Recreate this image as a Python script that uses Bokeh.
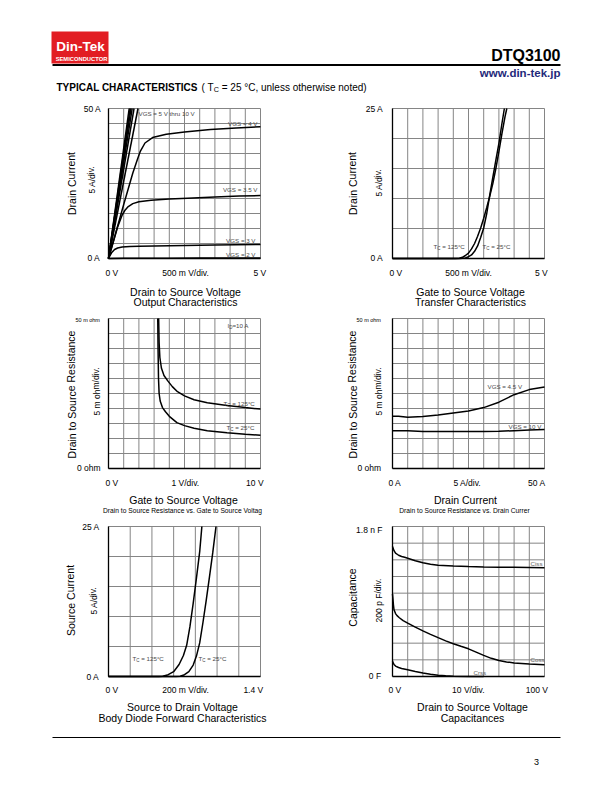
from bokeh.plotting import figure
from bokeh.models import Range1d, Label
from bokeh.embed import file_html
from bokeh.resources import INLINE

FONT = "Liberation Sans"
GRID_COLOR = "#858585"
NOTE_COLOR = "#4a4a4a"
CURVE_W = 1.5

# ---------------- data ----------------
# Output characteristics (VDS [V], ID [A])
out_high_vgs = ["5 V", "6 V", "7 V", "8 V", "9 V", "10 V"]
out_high_vds_at_50a = [0.97, 0.84, 0.78, 0.74, 0.71, 0.68]
out_vds_4 = [0, 0.5, 0.8, 0.95, 1.05, 1.2, 1.45, 1.9, 2.5, 3.35, 4.2, 5.0]
out_id_4 = [0, 18, 28.5, 33, 35.8, 38.5, 40.3, 41.4, 42.2, 43.0, 43.5, 43.9]
out_vds_35 = [0, 0.3, 0.45, 0.55, 0.65, 0.8, 1.0, 1.4, 2.0, 2.6, 3.5, 4.3, 5.0]
out_id_35 = [0, 10.5, 14.5, 16.2, 17.3, 18.3, 18.9, 19.4, 19.8, 20.1, 20.5, 20.8, 21.0]
out_vds_3 = [0, 0.1, 0.2, 0.3, 0.45, 0.7, 1.0, 1.5, 2.5, 3.5, 5.0]
out_id_3 = [0, 1.9, 3.0, 3.5, 3.8, 4.0, 4.1, 4.2, 4.35, 4.5, 4.7]
out_vds_2 = [0, 0.5, 1, 2, 3, 4, 5]
out_id_2 = [0, 0.08, 0.1, 0.12, 0.13, 0.14, 0.15]

# Transfer characteristics (VGS [V], ID [A])
tr_vgs_25 = [0, 2.2, 2.4, 2.5, 2.6, 2.7, 2.8, 2.9, 3.0, 3.1, 3.2, 3.3, 3.4, 3.5, 3.6, 3.68]
tr_id_25 = [0, 0, 0.1, 0.3, 0.6, 1.2, 2.1, 3.5, 5.1, 7.5, 10.6, 13.5, 16.4, 19.2, 22.5, 25]
tr_vgs_125 = [0, 2.05, 2.2, 2.3, 2.4, 2.5, 2.6, 2.7, 2.8, 2.9, 3.0, 3.1, 3.2, 3.3, 3.4, 3.5, 3.6, 3.7, 3.76]
tr_id_125 = [0, 0, 0.05, 0.2, 0.5, 0.9, 1.6, 2.5, 3.7, 5.1, 6.7, 8.5, 10.4, 12.5, 15.0, 17.8, 20.8, 23.6, 25]

# RDS(on) vs VGS (VGS [V], R [mOhm])
rg_vgs_125 = [3.3, 3.33, 3.38, 3.48, 3.65, 3.9, 4.2, 4.54, 5.0, 5.63, 6.5, 7.8, 9.0, 10]
rg_r_125 = [50, 42, 37, 33.5, 31, 29.2, 27.3, 25.6, 24.2, 22.9, 21.9, 21.0, 20.3, 19.8]
rg_vgs_25 = [3.24, 3.26, 3.29, 3.33, 3.4, 3.55, 3.75, 4.0, 4.5, 5.0, 5.63, 6.5, 7.8, 9.0, 10]
rg_r_25 = [50, 40, 30, 25, 22.5, 20.3, 18.9, 17.4, 15.3, 14.3, 13.4, 12.6, 11.9, 11.4, 11.1]

# RDS(on) vs ID (ID [A], R [mOhm])
ri_id_45 = [0, 2, 5, 10, 15, 20, 25, 30, 35, 40, 45, 50]
ri_r_45 = [17.4, 17.4, 17.1, 17.3, 17.8, 18.5, 19.2, 20.3, 22.1, 24.6, 26.3, 27.2]
ri_id_10 = [0, 5, 10, 15, 20, 25, 30, 35, 40, 45, 50]
ri_r_10 = [12.6, 12.6, 12.3, 12.3, 12.3, 12.3, 12.3, 12.4, 12.6, 12.8, 13.0]

# Body diode (VSD [V], IS [A])
bd_vsd_125 = [0, 0.46, 0.5, 0.55, 0.6, 0.65, 0.69, 0.72, 0.75, 0.78, 0.81, 0.84, 0.86]
bd_is_125 = [0, 0, 0.05, 0.3, 0.8, 2.0, 3.5, 5.2, 8.3, 12.2, 16.4, 20.8, 25]
bd_vsd_25 = [0, 0.62, 0.66, 0.7, 0.74, 0.78, 0.81, 0.84, 0.87, 0.9, 0.93, 0.96, 0.99]
bd_is_25 = [0, 0, 0.05, 0.3, 0.8, 1.9, 3.4, 5.6, 9.0, 12.7, 16.6, 20.6, 25.0]

# Capacitances (VDS [V], C [pF])
cap_v_iss = [0, 1, 2, 4, 6, 8, 10, 15, 20, 25, 30, 40, 50, 60, 70, 80, 90, 100]
cap_iss = [1560, 1510, 1480, 1455, 1440, 1430, 1420, 1390, 1366, 1348, 1336, 1327, 1320, 1315, 1312, 1310, 1308, 1306]
cap_v_oss = [0, 0.3, 0.6, 1, 2, 3, 4.5, 7, 10, 15, 20, 25, 30, 35, 40, 45, 50, 55, 60, 65, 70, 75, 80, 90, 100]
cap_oss = [990, 930, 860, 800, 755, 730, 705, 670, 640, 592, 548, 506, 466, 428, 393, 362, 332, 293, 253, 218, 192, 175, 163, 150, 142]
cap_v_rss = [0, 0.5, 1, 2, 4, 6, 10, 15, 20, 25, 30, 35, 40, 50, 60]
cap_rss = [185, 160, 145, 125, 108, 97, 81, 60, 42, 27, 16, 8, 3, 1, 0]

# approximate glyph widths (em) for placing subscripts
W = {"T": 0.611, "I": 0.278, "(": 0.333, " ": 0.278, "C": 0.722, "D": 0.722}

# ---------------- page canvas (page pixels as units) ----------------
PW, PH = 610, 790
p = figure(width=PW, height=PH, x_range=Range1d(0, PW), y_range=Range1d(PH, 0),
           x_axis_type=None, y_axis_type=None, toolbar_location=None,
           output_backend="svg", min_border=0)
p.outline_line_color = None
p.background_fill_color = "white"
p.border_fill_color = "white"
p.xgrid.visible = False
p.ygrid.visible = False

extra_x, extra_y = {}, {}
charts = []


class Chart:
    """A chart region on the page with its own data scales."""
    def __init__(self, name, L, T, R, B, xr, yr, nx, ny):
        self.name, self.xr, self.yr, self.nx, self.ny = name, xr, yr, nx, ny
        sx = (xr[1] - xr[0]) / (R - L)
        sy = (yr[1] - yr[0]) / (B - T)
        extra_x[name] = Range1d(xr[0] - L * sx, xr[1] + (PW - R) * sx)
        extra_y[name] = Range1d(yr[0] - (PH - B) * sy, yr[1] + T * sy)
        self.curves = []
        charts.append(self)

    def curve(self, xs, ys):
        self.curves.append((xs, ys))

    def draw(self):
        n = self.name
        xr, yr = self.xr, self.yr
        xt = [xr[0] + i * (xr[1] - xr[0]) / self.nx for i in range(self.nx + 1)]
        yt = [yr[0] + i * (yr[1] - yr[0]) / self.ny for i in range(self.ny + 1)]
        p.segment(x0=xt, y0=[yr[0]] * len(xt), x1=xt, y1=[yr[1]] * len(xt),
                  line_color=GRID_COLOR, line_width=1, x_range_name=n, y_range_name=n)
        p.segment(x0=[xr[0]] * len(yt), y0=yt, x1=[xr[1]] * len(yt), y1=yt,
                  line_color=GRID_COLOR, line_width=1, x_range_name=n, y_range_name=n)
        p.segment(x0=[xr[0]], y0=[yr[0]], x1=[xr[0]], y1=[yr[1]],
                  line_color="black", line_width=1.3, x_range_name=n, y_range_name=n)
        p.segment(x0=[xr[0]], y0=[yr[0]], x1=[xr[1]], y1=[yr[0]],
                  line_color="black", line_width=1.5, x_range_name=n, y_range_name=n)
        for xs, ys in self.curves:
            p.line(xs, ys, line_color="black", line_width=CURVE_W,
                   x_range_name=n, y_range_name=n)


def text(px, py, s, size, align="left", angle=0.0, color="black", style="normal"):
    p.add_layout(Label(x=px, y=py, text=s, text_font=FONT, text_font_size=f"{size}px",
                       text_align=align, text_baseline="middle", angle=angle,
                       text_color=color, text_font_style=style))


def sub_text(px, py, main, sub, rest, size, color="black"):
    wm = sum(W.get(ch, 0.556) for ch in main) * size
    ss = size * 0.72
    ws = sum(W.get(ch, 0.556) for ch in sub) * ss
    lead = len(rest) - len(rest.lstrip(" "))
    text(px, py, main, size, color=color)
    text(px + wm, py + size * 0.25, sub, ss, color=color)
    text(px + wm + ws + lead * W[" "] * size, py, rest.lstrip(" "), size, color=color)


TICK = 8.5
TITLE = 10.5
NOTE = 6.2
ROT = 1.5708

# ---------------- header ----------------
p.quad(left=51, right=108, top=31, bottom=63, fill_color="#e21d23", line_color=None)
text(80, 45.5, "Din-Tek", 13.5, align="center", color="white", style="bold")
text(81, 58, "SEMICONDUCTOR", 5.8, align="center", color="white", style="bold")
p.segment(x0=[52], y0=[64.5], x1=[560], y1=[64.5], line_color="black", line_width=2)
text(560, 55, "DTQ3100", 16, align="right", style="bold")
text(560, 72, "www.din-tek.jp", 11.5, align="right", color="#1f2a7a", style="bold")
text(56, 86.5, "TYPICAL CHARACTERISTICS", 10, style="bold")
sub_text(201, 86.5, "( T", "C", " = 25 °C, unless otherwise noted)", 10)

# ---------------- chart 1: output characteristics ----------------
c1 = Chart("c1", 108, 108, 260, 258, (0, 5), (0, 50), 10, 10)
for v_end in out_high_vds_at_50a:
    c1.curve([0, v_end], [0, 50])
c1.curve(out_vds_4, out_id_4)
c1.curve(out_vds_35, out_id_35)
c1.curve(out_vds_3, out_id_3)
c1.curve(out_vds_2, out_id_2)
text(103, 108, "50  A", TICK, align="right")
text(102, 257, "0  A", TICK, align="right")
text(91, 178, "5  A/div.", TICK, align="center", angle=ROT)
text(71, 183, "Drain Current", TITLE, align="center", angle=ROT)
text(105, 272, "0  V", TICK)
text(185, 272, "500 m V/div.", TICK, align="center")
text(260.5, 272, "5  V", TICK, align="center")
text(185, 291, "Drain to Source Voltage", TITLE, align="center")
text(185, 301, "Output Characteristics", TITLE, align="center")
text(138, 112.5, "VGS = " + out_high_vgs[0] + " thru " + out_high_vgs[-1], NOTE, color=NOTE_COLOR)
text(257, 122.5, "VGS = 4 V", NOTE, align="right", color=NOTE_COLOR)
text(257, 189, "VGS = 3.5 V", NOTE, align="right", color=NOTE_COLOR)
text(255, 240, "VGS = 3 V", NOTE, align="right", color=NOTE_COLOR)
text(255, 253.5, "VGS = 2 V", NOTE, align="right", color=NOTE_COLOR)

# ---------------- chart 2: transfer characteristics ----------------
c2 = Chart("c2", 392, 108, 544, 258, (0, 5), (0, 25), 10, 5)
c2.curve(tr_vgs_125, tr_id_125)
c2.curve(tr_vgs_25, tr_id_25)
text(385, 108, "25  A", TICK, align="right")
text(385, 257, "0  A", TICK, align="right")
text(378, 181, "5  A/div.", TICK, align="center", angle=ROT)
text(352, 183, "Drain Current", TITLE, align="center", angle=ROT)
text(389, 272.5, "0  V", TICK)
text(468, 272.5, "500 m V/div.", TICK, align="center")
text(542, 272.5, "5  V", TICK, align="center")
text(470, 291, "Gate to Source Voltage", TITLE, align="center")
text(470, 301.5, "Transfer Characteristics", TITLE, align="center")
sub_text(433, 246, "T", "C", " = 125°C", NOTE, color=NOTE_COLOR)
sub_text(482, 246, "T", "C", " = 25°C", NOTE, color=NOTE_COLOR)

# ---------------- chart 3: RDS vs VGS ----------------
c3 = Chart("c3", 108, 318, 260, 468, (0, 10), (0, 50), 10, 10)
c3.curve(rg_vgs_125, rg_r_125)
c3.curve(rg_vgs_25, rg_r_25)
text(75, 319.5, "50 m ohm", 5.5)
text(102.5, 467, "0  ohm", TICK, align="right")
text(96, 391, "5 m ohm/div.", TICK, align="center", angle=ROT)
text(71, 394, "Drain to Source Resistance", TITLE, align="center", angle=ROT)
text(105, 482.5, "0  V", TICK)
text(186, 482.5, "1  V/div.", TICK, align="center")
text(255.5, 482.5, "10  V", TICK, align="center")
text(183, 499.5, "Gate to Source Voltage", TITLE, align="center")
text(182, 510, "Drain to Source Resistance vs. Gate to Source Voltag", 6.7, align="center")
sub_text(227, 325, "I", "D", "=10 A", NOTE, color=NOTE_COLOR)
sub_text(223, 403, "T", "C", " = 125°C", NOTE, color=NOTE_COLOR)
sub_text(226, 427, "T", "C", " = 25°C", NOTE, color=NOTE_COLOR)

# ---------------- chart 4: RDS vs ID ----------------
c4 = Chart("c4", 392, 318, 544, 468, (0, 50), (0, 50), 10, 10)
c4.curve(ri_id_45, ri_r_45)
c4.curve(ri_id_10, ri_r_10)
text(356, 319.5, "50 m ohm", 5.5)
text(383, 467, "0  ohm", TICK, align="right")
text(378, 391, "5 m ohm/div.", TICK, align="center", angle=ROT)
text(352, 394, "Drain to Source Resistance", TITLE, align="center", angle=ROT)
text(388, 482.5, "0  A", TICK)
text(468, 482.5, "5  A/div.", TICK, align="center")
text(537.5, 482.5, "50  A", TICK, align="center")
text(465, 499.5, "Drain Current", TITLE, align="center")
text(464, 510, "Drain to Source Resistance vs. Drain Currer", 6.7, align="center")
text(487, 386, "VGS = 4.5 V", NOTE, color=NOTE_COLOR)
text(508, 426, "VGS = 10 V", NOTE, color=NOTE_COLOR)

# ---------------- chart 5: body diode ----------------
c5 = Chart("c5", 108, 526, 260, 676, (0, 1.4), (0, 25), 7, 5)
c5.curve(bd_vsd_125, bd_is_125)
c5.curve(bd_vsd_25, bd_is_25)
text(101.5, 526, "25  A", TICK, align="right")
text(101, 676, "0  A", TICK, align="right")
text(93, 599, "5  A/div.", TICK, align="center", angle=ROT)
text(70, 600, "Source Current", TITLE, align="center", angle=ROT)
text(105, 689, "0  V", TICK)
text(185, 689, "200 m V/div.", TICK, align="center")
text(254, 689, "1.4  V", TICK, align="center")
text(182, 706, "Source to Drain Voltage", TITLE, align="center")
text(182, 717, "Body Diode Forward Characteristics", TITLE, align="center")
sub_text(132, 658, "T", "C", " = 125°C", NOTE, color=NOTE_COLOR)
sub_text(198, 658, "T", "C", " = 25°C", NOTE, color=NOTE_COLOR)

# ---------------- chart 6: capacitances ----------------
c6 = Chart("c6", 392, 526, 544, 676, (0, 100), (0, 1800), 10, 9)
c6.curve(cap_v_iss, cap_iss)
c6.curve(cap_v_oss, cap_oss)
c6.curve(cap_v_rss, cap_rss)
text(382, 529, "1.8 n F", TICK, align="right")
text(383, 675, "0  F", TICK, align="right")
text(378, 600, "200 p F/div.", TICK, align="center", angle=ROT)
text(352, 597, "Capacitance", TITLE, align="center", angle=ROT)
text(388, 689, "0  V", TICK)
text(469, 689, "10  V/div.", TICK, align="center")
text(537.5, 689, "100  V", TICK, align="center")
text(472, 706.5, "Drain to Source Voltage", TITLE, align="center")
text(472, 717, "Capacitances", TITLE, align="center")
text(530, 563, "Ciss", NOTE, color="#666666")
text(530, 659, "Coss", NOTE, color="#666666")
text(473, 672, "Crss", NOTE, color="#666666")

# ---------------- footer ----------------
p.segment(x0=[52], y0=[737], x1=[560], y1=[737], line_color="black", line_width=1.2)
text(536, 761, "3", 9, align="center")

p.extra_x_ranges = extra_x
p.extra_y_ranges = extra_y
for c in charts:
    c.draw()

open("out.html", "w").write(file_html(p, INLINE))
